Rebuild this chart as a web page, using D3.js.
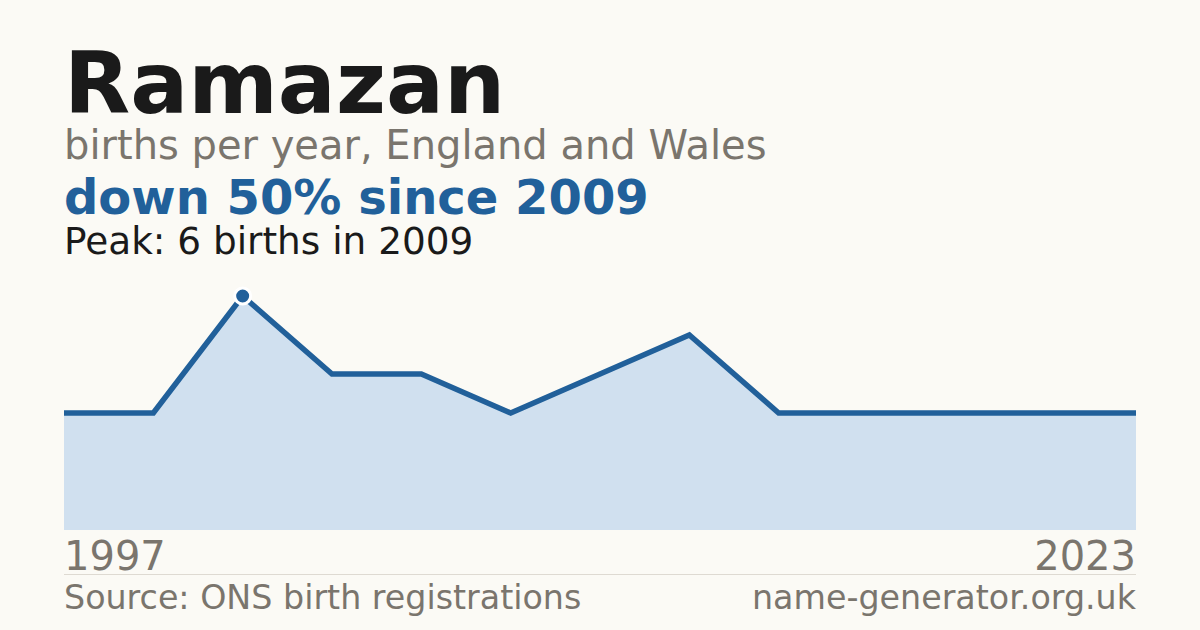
<!DOCTYPE html>
<html>
<head>
<meta charset="utf-8">
<script src="https://cdn.jsdelivr.net/npm/d3@7"></script>
<style>
  html, body { margin: 0; padding: 0; background: #fbfaf5; }
  svg { display: block; font-family: "DejaVu Sans", sans-serif; }
</style>
</head>
<body>
<svg id="chart" width="1200" height="630"></svg>
<script>
// births per year (only years with data)
var years = [1997, 2007, 2009, 2011, 2012, 2014, 2015, 2016, 2018, 2019, 2020, 2022, 2023]
var births = [3, 3, 6, 4, 4, 3, 4, 5, 3, 3, 3, 3, 3]
var firstLabel = "1997", lastLabel = "2023"

var width = 1200, height = 630
var left = 64, right = 1136

var svg = d3.select("#chart")
svg.append("rect")
    .attr("width", width).attr("height", height)
    .attr("fill", "#fbfaf5")

var x = d3.scalePoint()
    .domain(years)
    .range([left, right])

var y = d3.scaleLinear()
    .domain([0, 6])
    .range([530, 296])

var data = years.map((yr, i) => ({ year: yr, v: births[i] }))

var area = d3.area()
    .x(d => x(d.year))
    .y0(y(0))
    .y1(d => y(d.v))

var line = d3.line()
    .x(d => x(d.year))
    .y(d => y(d.v))

svg.append("path")
    .datum(data)
    .attr("d", area)
    .attr("fill", "#d0e0ef")

svg.append("path")
    .datum(data)
    .attr("d", line)
    .attr("fill", "none")
    .attr("stroke", "#21609a")
    .attr("stroke-width", 5.5)
    .attr("stroke-linejoin", "miter")

var peakIdx = births.indexOf(d3.max(births))
svg.append("circle")
    .attr("cx", x(years[peakIdx]))
    .attr("cy", y(births[peakIdx]))
    .attr("r", 8)
    .attr("fill", "#21609a")
    .attr("stroke", "#ffffff")
    .attr("stroke-width", 3)

// titles
svg.append("text")
    .attr("x", left).attr("y", 113)
    .attr("font-size", 86).attr("font-weight", "bold")
    .attr("fill", "#1a1a1a")
    .text("Ramazan")
svg.append("text")
    .attr("x", left).attr("y", 159)
    .attr("font-size", 40)
    .attr("fill", "#7a756d")
    .text("births per year, England and Wales")
svg.append("text")
    .attr("x", left).attr("y", 214)
    .attr("font-size", 48).attr("font-weight", "bold")
    .attr("fill", "#21609a")
    .text("down 50% since 2009")
svg.append("text")
    .attr("x", left).attr("y", 254)
    .attr("font-size", 37.4)
    .attr("fill", "#1a1a1a")
    .text("Peak: 6 births in 2009")

// axis labels
svg.append("text")
    .attr("x", left).attr("y", 570)
    .attr("font-size", 40)
    .attr("fill", "#7a756d")
    .text(firstLabel)
svg.append("text")
    .attr("x", right).attr("y", 570)
    .attr("font-size", 40)
    .attr("text-anchor", "end")
    .attr("fill", "#7a756d")
    .text(lastLabel)

svg.append("line")
    .attr("x1", left).attr("x2", right)
    .attr("y1", 574.5).attr("y2", 574.5)
    .attr("stroke", "#dedad2")
    .attr("stroke-width", 1)

// footer
svg.append("text")
    .attr("x", left).attr("y", 609)
    .attr("font-size", 33.3)
    .attr("fill", "#7a756d")
    .text("Source: ONS birth registrations")
svg.append("text")
    .attr("x", right).attr("y", 609)
    .attr("font-size", 33.3)
    .attr("text-anchor", "end")
    .attr("fill", "#7a756d")
    .text("name-generator.org.uk")
</script>
</body>
</html>
